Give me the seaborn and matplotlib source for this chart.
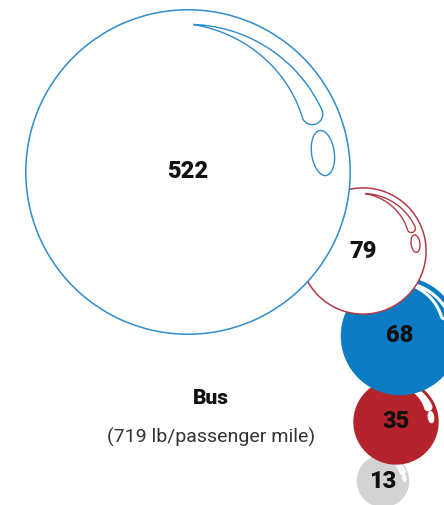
import numpy as np
import matplotlib
matplotlib.use("Agg")
import matplotlib.pyplot as plt
from matplotlib.patches import Circle, Ellipse, Polygon
import seaborn as sns

# ---- data ----
values = [522, 79, 68, 35, 13]
labels = ["522", "79", "68", "35", "13"]
title = "Bus"
subtitle = "(719 lb/passenger mile)"

# ---- style ----
sns.set_theme(style="white")
plt.rcParams['font.family'] = ['Roboto', 'DejaVu Sans']

centers = [(188, 172), (363, 251), (400, 336), (396, 422), (383, 481)]
filled = [False, False, True, True, True]
colors = ["#2e8ccb", "#b33a45", "#0b7cc4", "#b5232c", "#d3d3d3"]
zorders = [10, 8, 6, 4, 2]
K = 7.1  # radius scale: r = K * sqrt(value)

fig = plt.figure(figsize=(4.44, 5.05), dpi=100)
ax = fig.add_axes([0, 0, 1, 1])
ax.set_xlim(0, 444)
ax.set_ylim(505, 0)
ax.set_aspect("equal")
ax.axis("off")


def crescent(cx, cy, R, th1=25, th2=88, ro=0.91, w=0.13, n=80):
    t1, t2 = np.radians(th1), np.radians(th2)
    pts = []
    for a in np.linspace(t2, t1, n):
        pts.append((ro * np.cos(a), ro * np.sin(a)))
    u = np.array([np.cos(t1), np.sin(t1)])
    t = np.array([np.sin(t1), -np.cos(t1)])
    c = (ro - w / 2) * u
    for phi in np.linspace(0, np.pi, 30):
        p = c + (w / 2) * (np.cos(phi) * u + np.sin(phi) * t)
        pts.append(tuple(p))
    for a in np.linspace(t1, t2, n):
        ri = ro - w * (t2 - a) / (t2 - t1)
        pts.append((ri * np.cos(a), ri * np.sin(a)))
    pts = np.array(pts)
    return np.column_stack([cx + R * pts[:, 0], cy - R * pts[:, 1]])


for v, lab, (cx, cy), f, col, z in zip(values, labels, centers, filled, colors, zorders):
    R = K * np.sqrt(v)
    if f:
        ax.add_patch(Circle((cx, cy), R, facecolor=col, edgecolor=col, lw=1.0, zorder=z))
        hl_edge, hl_face, hl_lw = "white", "none", 2.2
        if v < 50:
            hl_face = "white"
    else:
        ax.add_patch(Circle((cx, cy), R, facecolor="white", edgecolor=col, lw=1.1, zorder=z))
        hl_edge, hl_face, hl_lw = col, "white", 1.0
    ax.add_patch(Polygon(crescent(cx, cy, R), closed=True, facecolor=hl_face,
                         edgecolor=hl_edge, lw=hl_lw, zorder=z + 0.2))
    ang = np.radians(8)
    ex = cx + 0.84 * R * np.cos(ang)
    ey = cy - 0.84 * R * np.sin(ang)
    ax.add_patch(Ellipse((ex, ey), 0.14 * R, 0.28 * R, angle=-8,
                         facecolor="white", edgecolor=hl_edge if not f else "white",
                         lw=hl_lw if not f else 0.5, zorder=z + 0.3))
    ax.text(cx, cy, lab, ha="center", va="center", fontsize=17, fontweight="black",
            color="#111111", zorder=z + 0.5)

ax.text(211, 398, title, ha="center", va="center", fontsize=15, fontweight="black",
        color="#111111")
ax.text(211, 437, subtitle, ha="center", va="center", fontsize=14, color="#333333")

fig.savefig("out.png", dpi=100)
